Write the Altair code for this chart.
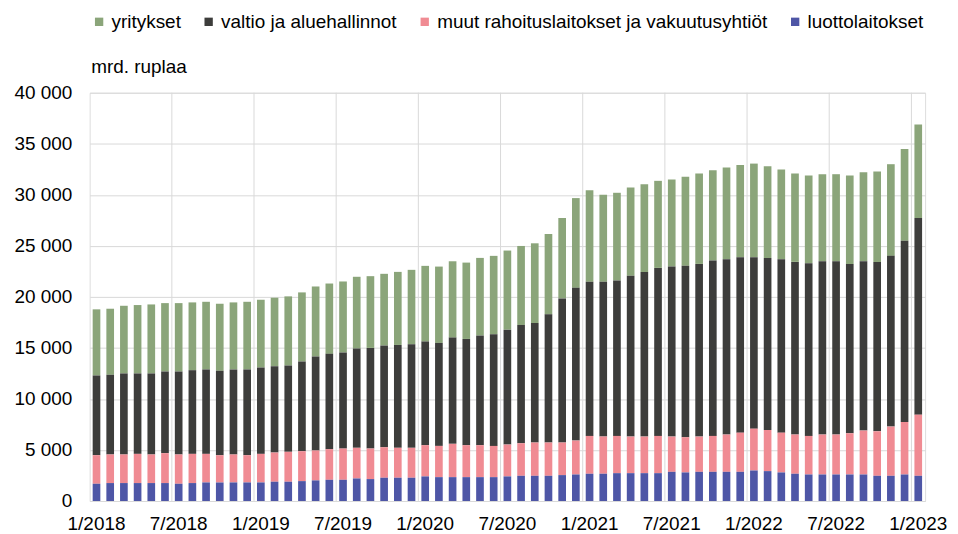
import altair as alt
import pandas as pd

months = [f"{m}/{y}" for y in range(2018, 2024) for m in range(1, 13)][:61]

luottolaitokset = [
    1690, 1760, 1760, 1760, 1760, 1760, 1690, 1760, 1820, 1820, 1820, 1820,
    1820, 1890, 1890, 1950, 2020, 2080, 2080, 2210, 2150, 2280, 2280, 2280,
    2410, 2340, 2340, 2340, 2340, 2340, 2410, 2470, 2470, 2470, 2540, 2600,
    2670, 2670, 2730, 2730, 2730, 2730, 2860, 2800, 2860, 2860, 2860, 2860,
    2990, 2930, 2800, 2670, 2600, 2600, 2600, 2600, 2600, 2470, 2470, 2600,
    2470,
]
muut = [
    2800, 2800, 2800, 2860, 2800, 2930, 2870, 2860, 2800, 2670, 2740, 2670,
    2800, 2860, 2930, 2930, 2930, 3000, 3060, 3000, 2990, 2990, 2930, 2930,
    3060, 3060, 3260, 3130, 3130, 3060, 3120, 3190, 3260, 3260, 3190, 3320,
    3710, 3640, 3650, 3580, 3580, 3650, 3450, 3450, 3450, 3520, 3650, 3840,
    4100, 4030, 3900, 3840, 3780, 3910, 3910, 4040, 4300, 4360, 4820, 5140,
    5990,
]
valtio = [
    7810, 7810, 7940, 7880, 7940, 8000, 8130, 8200, 8270, 8270, 8330, 8400,
    8460, 8460, 8460, 8790, 9210, 9340, 9410, 9730, 9860, 9960, 10080, 10150,
    10150, 10090, 10410, 10410, 10740, 10940, 11260, 11590, 11710, 12560, 14120, 14970,
    15100, 15170, 15230, 15750, 16140, 16460, 16660, 16790, 16920, 17180, 17180, 17190,
    16800, 16860, 16990, 16920, 16920, 16980, 16980, 16590, 16590, 16600, 16730, 17770,
    19270,
]
yritykset = [
    6480, 6470, 6630, 6700, 6760, 6700, 6700, 6640, 6630, 6570, 6570, 6630,
    6640, 6710, 6770, 6770, 6860, 6890, 6960, 7030, 7030, 7030, 7160, 7290,
    7420, 7480, 7480, 7480, 7610, 7680, 7750, 7740, 7810, 7870, 7880, 8790,
    8980, 8520, 8590, 8660, 8590, 8530, 8530, 8720, 8860, 8850, 8980, 9040,
    9170, 8980, 8790, 8660, 8590, 8530, 8530, 8660, 8730, 8850, 8980, 8980,
    9170,
]

series_names = [
    "yritykset",
    "valtio ja aluehallinnot",
    "muut rahoituslaitokset ja vakuutusyhtiöt",
    "luottolaitokset",
]
series_colors = ["#8ba57a", "#3d3d3b", "#f08b93", "#4e56a6"]
series_values = [yritykset, valtio, muut, luottolaitokset]
stack_order = [3, 2, 1, 0]

label_months = months[::6]
grid_months = months[6::6]
y_ticks = list(range(0, 40001, 5000))

rows = []
for name, vals, o in zip(series_names, series_values, stack_order):
    for m, v in zip(months, vals):
        rows.append({"month": m, "sarja": name, "arvo": v, "ord": o})
df = pd.DataFrame(rows)
grid_df = pd.DataFrame({"month": grid_months})

FONT = "Liberation Sans"
x_scale = alt.Scale(domain=months, paddingInner=0, paddingOuter=0)
x_axis = alt.Axis(
    values=label_months,
    labelAngle=0,
    ticks=False,
    tickSize=0,
    domain=False,
    grid=False,
    title=None,
    labelFont=FONT,
    labelFontSize=19,
    labelColor="#000000",
    labelPadding=14,
)

grid = alt.Chart(grid_df).mark_rule(color="#d9d9d9", strokeWidth=1).encode(
    x=alt.X("month:O", scale=x_scale, sort=months, bandPosition=0, axis=x_axis)
)

bars = alt.Chart(df).mark_bar(width=alt.RelativeBandSize(0.56)).encode(
    x=alt.X("month:O", scale=x_scale, sort=months, axis=x_axis),
    y=alt.Y(
        "arvo:Q",
        stack="zero",
        scale=alt.Scale(domain=[0, 40000], nice=False),
        axis=alt.Axis(
            values=y_ticks,
            grid=True,
            gridColor="#d9d9d9",
            ticks=False,
            tickSize=0,
            domain=False,
            labelFont=FONT,
            labelFontSize=19,
            labelColor="#000000",
            labelPadding=18,
            labelExpr="replace(format(datum.value, ','), ',', ' ')",
            title="mrd. ruplaa",
            titleAngle=0,
            titleFont=FONT,
            titleFontSize=19,
            titleFontWeight="normal",
            titleColor="#000000",
            titleAlign="left",
            titleBaseline="alphabetic",
            titleX=1,
            titleY=-20,
        ),
    ),
    color=alt.Color(
        "sarja:N",
        scale=alt.Scale(domain=series_names, range=series_colors),
        legend=alt.Legend(
            title=None,
            orient="none",
            legendX=0,
            legendY=-81,
            direction="horizontal",
            symbolType="square",
            symbolSize=70,
            symbolStrokeWidth=0,
            labelFont=FONT,
            labelFontSize=19,
            labelColor="#000000",
            labelOffset=3,
            columnPadding=18,
            padding=0,
            labelLimit=500,
        ),
    ),
    order=alt.Order("ord:Q", sort="ascending"),
)

chart = (
    alt.layer(grid, bars)
    .properties(
        width=839,
        height=410,
        autosize=alt.AutoSizeParams(type="none"),
        padding={"left": 82, "top": 84, "right": 25, "bottom": 32},
    )
    .configure_view(stroke="#d9d9d9", strokeWidth=1)
    .configure(background="#ffffff")
)

chart.save("out.html", embed_options={"renderer": "svg", "actions": False})
